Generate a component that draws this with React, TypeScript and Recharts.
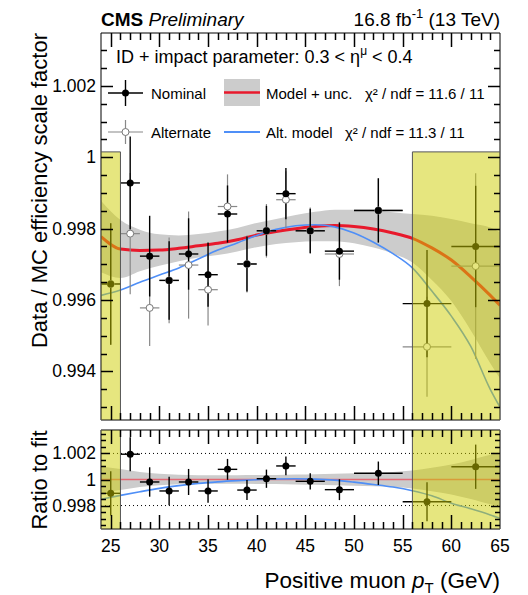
import React from "react";
import { ComposedChart, Scatter, Line, Area, XAxis, YAxis, ErrorBar, ReferenceArea, ReferenceLine } from "recharts";

const FONT = "'Liberation Sans', Arial, Helvetica, sans-serif";

// pT bins (GeV)
const binCenter = [25, 27, 29, 31, 33, 35, 37, 39, 41, 43, 45.5, 48.5, 52.5, 57.5, 62.5];
const binHalfWidth = [1, 1, 1, 1, 1, 1, 1, 1, 1, 1, 1.5, 1.5, 2.5, 2.5, 2.5];

const nominalSF = [0.99645, 0.99928, 0.99723, 0.99655, 0.99729, 0.99671, 0.99841, 0.99701, 0.99794, 0.99898, 0.99794, 0.99737, 0.99851, 0.9959, 0.9975];
const nominalErr = [0.0017, 0.0013, 0.00113, 0.0011, 0.001, 0.0009, 0.0008, 0.00077, 0.0007, 0.00072, 0.00062, 0.0008, 0.0009, 0.0015, 0.0017];
const alternateSF = [0.99645, 0.99786, 0.99578, 0.99655, 0.99698, 0.99629, 0.99862, 0.99701, 0.99794, 0.99881, 0.99794, 0.99729, 0.99851, 0.99469, 0.99695];
const alternateErr = [0.0017, 0.0017, 0.00107, 0.0012, 0.0015, 0.001, 0.0009, 0.0008, 0.00075, 0.0008, 0.00065, 0.0009, 0.0009, 0.0014, 0.0026];
const ratioToFit = [0.99894, 1.00194, 0.99981, 0.99912, 0.99981, 0.99912, 1.00078, 0.99919, 1.00006, 1.00104, 0.99986, 0.99922, 1.00048, 0.99829, 1.00098];

// fitted models sampled along pT
const curvePt = [24, 26, 28, 30, 32, 34, 36, 38, 40, 42, 44, 46, 48, 50, 52, 54, 56, 58, 60, 62, 64, 65];
const modelNominal = [0.99778, 0.99743, 0.99739, 0.9974, 0.99745, 0.99752, 0.99759, 0.99769, 0.99782, 0.99792, 0.998, 0.99806, 0.99809, 0.99806, 0.99799, 0.99788, 0.99773, 0.99746, 0.99712, 0.99665, 0.99613, 0.99585];
const modelUnc = [0.001, 0.00081, 0.00058, 0.00044, 0.00036, 0.00033, 0.00033, 0.00033, 0.00034, 0.00035, 0.00038, 0.00041, 0.00044, 0.00047, 0.00052, 0.00058, 0.00068, 0.0009, 0.00115, 0.0015, 0.0019, 0.00205];
const modelAlt = [0.99613, 0.99628, 0.9965, 0.9967, 0.9969, 0.99715, 0.9974, 0.9976, 0.99781, 0.99798, 0.99808, 0.99811, 0.99805, 0.99788, 0.99762, 0.9973, 0.9969, 0.99625, 0.99555, 0.9947, 0.9935, 0.993];
const altOverNominal = [0.99848, 0.99878, 0.99906, 0.99932, 0.99953, 0.9997, 0.99982, 0.99991, 0.99998, 1.00004, 1.00006, 1.00003, 0.99995, 0.9998, 0.99962, 0.99942, 0.99914, 0.99875, 0.99818, 0.99775, 0.99728, 0.99702];

const xMajor = [25, 30, 35, 40, 45, 50, 55, 60, 65];
const yMajorMain = [0.994, 0.996, 0.998, 1, 1.002];
const yLabelsMain = ["0.994", "0.996", "0.998", "1", "1.002"];
const yMajorRatio = [0.998, 1, 1.002];
const yLabelsRatio = ["0.998", "1", "1.002"];

const X_DOMAIN: [number, number] = [24, 65];
const Y_MAIN: [number, number] = [0.99264, 1.00348];
const Y_RATIO: [number, number] = [0.9962, 1.0038];
const vetoLow: [number, number] = [24, 26];
const vetoHigh: [number, number] = [56, 65];
const vetoTop = 1.00015;

const xTicks = Array.from({ length: 40 }, (_, i) => 25 + i);
const yTicksMain = Array.from({ length: 21 }, (_, i) => Math.round((0.993 + i * 0.0005) * 1e5) / 1e5);
const yTicksRatio = Array.from({ length: 15 }, (_, i) => Math.round((0.9965 + i * 0.0005) * 1e5) / 1e5);

// frame geometry (follows from the chart margins below)
const PLOT_L = 101;
const PLOT_R = 500;
const MAIN_T = 33;
const MAIN_B = 420;
const RATIO_TOP = 425;
const RATIO_T = 430;
const RATIO_B = 529;

const nominalPts = binCenter.map((x, i) => ({ x, y: nominalSF[i], ex: binHalfWidth[i], ey: nominalErr[i] }));
const alternatePts = binCenter.map((x, i) => ({ x, y: alternateSF[i], ex: binHalfWidth[i], ey: alternateErr[i] }));
const ratioPts = binCenter.map((x, i) => ({ x, y: ratioToFit[i], ex: binHalfWidth[i], ey: nominalErr[i] }));

const mainRows = curvePt.map((x, i) => ({
  x,
  nom: modelNominal[i],
  alt: modelAlt[i],
  band: [modelNominal[i] - modelUnc[i], modelNominal[i] + modelUnc[i]],
}));
const ratioRows = curvePt.map((x, i) => ({
  x,
  alt: altOverNominal[i],
  band: [1 - modelUnc[i] / modelNominal[i], 1 + modelUnc[i] / modelNominal[i]],
}));

const idx = (list: number[], v: number) => list.findIndex((m) => Math.abs(m - v) < 1e-7);

const bottomLabel = (p: any) => {
  const i = idx(xMajor, p.payload.value);
  if (i < 0) return <g />;
  return (
    <text x={p.x} y={p.y + 23} textAnchor="middle" fontSize={17.5} fontFamily={FONT} fill="#000">
      {xMajor[i]}
    </text>
  );
};

const leftLabel = (majors: number[], labels: string[]) => (p: any) => {
  const i = idx(majors, p.payload.value);
  if (i < 0) return <g />;
  return (
    <text x={p.x - 5} y={p.y + 6} textAnchor="end" fontSize={17.5} fontFamily={FONT} fill="#000">
      {labels[i]}
    </text>
  );
};

const dotFilled = (p: any) => <circle cx={p.cx} cy={p.cy} r={3.5} fill="#000" />;
const dotOpen = (p: any) => <circle cx={p.cx} cy={p.cy} r={3.5} fill="#fff" stroke="#777" strokeWidth={1} />;

const YELLOW = "rgb(205,205,0)";

function MainPanel() {
  return (
    <ComposedChart width={528} height={425} data={mainRows} margin={{ top: MAIN_T - 1, right: 528 - PLOT_R - 1, bottom: 425 - MAIN_B - 1, left: 0 }}>
      <XAxis dataKey="x" type="number" domain={X_DOMAIN} allowDataOverflow ticks={xMajor} interval={0} height={1}
        tickSize={0} tickMargin={0} tickLine={false} tick={false} axisLine={{ stroke: "#000" }} />
      <XAxis xAxisId="top" orientation="top" dataKey="x" type="number" domain={X_DOMAIN} allowDataOverflow ticks={xMajor}
        interval={0} height={1} tickSize={0} tickLine={false} tick={false} axisLine={{ stroke: "#000" }} />
      <YAxis type="number" domain={Y_MAIN} allowDataOverflow ticks={yMajorMain} interval={0} width={PLOT_L}
        tickSize={0} tickMargin={0} tickLine={false} axisLine={{ stroke: "#000" }} tick={leftLabel(yMajorMain, yLabelsMain)} />
      <YAxis yAxisId="right" orientation="right" type="number" domain={Y_MAIN} allowDataOverflow ticks={yMajorMain} interval={0}
        width={1} tickSize={0} tickLine={false} tick={false} axisLine={{ stroke: "#000" }} />
      <Area dataKey="band" type="monotone" stroke="none" fill="#cccccc" fillOpacity={1} isAnimationActive={false} />
      <Line dataKey="nom" type="monotone" stroke="#e8192c" strokeWidth={3} dot={false} isAnimationActive={false} />
      <Line dataKey="alt" type="monotone" stroke="#4f8ff7" strokeWidth={1.6} dot={false} isAnimationActive={false} />
      <Scatter data={alternatePts} dataKey="y" shape={dotOpen} isAnimationActive={false}>
        <ErrorBar dataKey="ex" direction="x" width={0} stroke="#888" strokeWidth={1.2} />
        <ErrorBar dataKey="ey" direction="y" width={0} stroke="#888" strokeWidth={1.2} />
      </Scatter>
      <Scatter data={nominalPts} dataKey="y" shape={dotFilled} isAnimationActive={false}>
        <ErrorBar dataKey="ex" direction="x" width={0} stroke="#000" strokeWidth={1.4} />
        <ErrorBar dataKey="ey" direction="y" width={0} stroke="#000" strokeWidth={1.4} />
      </Scatter>
      <ReferenceArea x1={vetoLow[0]} x2={vetoLow[1]} y1={Y_MAIN[0]} y2={vetoTop} fill={YELLOW} fillOpacity={0.5}
        stroke="#555" strokeWidth={1} ifOverflow="hidden" zIndex={1500} />
      <ReferenceArea x1={vetoHigh[0]} x2={vetoHigh[1]} y1={Y_MAIN[0]} y2={vetoTop} fill={YELLOW} fillOpacity={0.5}
        stroke="#555" strokeWidth={1} ifOverflow="hidden" zIndex={1500} />
    </ComposedChart>
  );
}

function RatioPanel() {
  return (
    <ComposedChart width={528} height={171} data={ratioRows}
      margin={{ top: RATIO_T - RATIO_TOP - 1, right: 528 - PLOT_R - 1, bottom: 0, left: 0 }}>
      <XAxis dataKey="x" type="number" domain={X_DOMAIN} allowDataOverflow ticks={xMajor} interval={0} height={RATIO_TOP + 171 - RATIO_B}
        tickSize={0} tickMargin={0} tickLine={false} axisLine={{ stroke: "#000" }} tick={bottomLabel} />
      <XAxis xAxisId="top" orientation="top" dataKey="x" type="number" domain={X_DOMAIN} allowDataOverflow ticks={xMajor}
        interval={0} height={1} tickSize={0} tickLine={false} tick={false} axisLine={{ stroke: "#000" }} />
      <YAxis type="number" domain={Y_RATIO} allowDataOverflow ticks={yMajorRatio} interval={0} width={PLOT_L}
        tickSize={0} tickMargin={0} tickLine={false} axisLine={{ stroke: "#000" }} tick={leftLabel(yMajorRatio, yLabelsRatio)} />
      <YAxis yAxisId="right" orientation="right" type="number" domain={Y_RATIO} allowDataOverflow ticks={yMajorRatio} interval={0}
        width={1} tickSize={0} tickLine={false} tick={false} axisLine={{ stroke: "#000" }} />
      <Area dataKey="band" type="monotone" stroke="none" fill="#cccccc" fillOpacity={1} isAnimationActive={false} />
      <ReferenceLine y={1.002} stroke="#000" strokeDasharray="1 3" />
      <ReferenceLine y={0.998} stroke="#000" strokeDasharray="1 3" />
      <ReferenceLine y={1} stroke="#e36a74" strokeWidth={1.5} />
      <Line dataKey="alt" type="monotone" stroke="#4f8ff7" strokeWidth={1.6} dot={false} isAnimationActive={false} />
      <Scatter data={ratioPts} dataKey="y" shape={dotFilled} isAnimationActive={false}>
        <ErrorBar dataKey="ex" direction="x" width={0} stroke="#000" strokeWidth={1.4} />
        <ErrorBar dataKey="ey" direction="y" width={0} stroke="#000" strokeWidth={1.4} />
      </Scatter>
      <ReferenceArea x1={vetoLow[0]} x2={vetoLow[1]} y1={Y_RATIO[0]} y2={Y_RATIO[1]} fill={YELLOW} fillOpacity={0.5}
        stroke="#555" strokeWidth={1} ifOverflow="hidden" zIndex={1500} />
      <ReferenceArea x1={vetoHigh[0]} x2={vetoHigh[1]} y1={Y_RATIO[0]} y2={Y_RATIO[1]} fill={YELLOW} fillOpacity={0.5}
        stroke="#555" strokeWidth={1} ifOverflow="hidden" zIndex={1500} />
    </ComposedChart>
  );
}

// inward ROOT-style tick marks on all four sides of a frame, snapped to whole pixels
function FrameTicks({ top, bottom, yDomain, yTicks, yMajors, xBig, yBig }: any) {
  const snap = (v: number) => Math.round(v) + 0.5;
  const px = (v: number) => snap(PLOT_L + ((v - X_DOMAIN[0]) / (X_DOMAIN[1] - X_DOMAIN[0])) * (PLOT_R - PLOT_L));
  const py = (v: number) => snap(top + ((yDomain[1] - v) / (yDomain[1] - yDomain[0])) * (bottom - top));
  const marks: React.ReactElement[] = [];
  xTicks.forEach((v) => {
    const l = idx(xMajor, v) >= 0 ? xBig : Math.round(xBig / 2);
    const x = px(v);
    marks.push(<line key={`b${v}`} x1={x} x2={x} y1={bottom} y2={bottom - l} />);
    marks.push(<line key={`t${v}`} x1={x} x2={x} y1={top} y2={top + l} />);
  });
  yTicks.forEach((v: number) => {
    const l = idx(yMajors, v) >= 0 ? yBig : Math.round(yBig / 2);
    const y = py(v);
    marks.push(<line key={`l${v}`} x1={PLOT_L} x2={PLOT_L + l} y1={y} y2={y} />);
    marks.push(<line key={`r${v}`} x1={PLOT_R} x2={PLOT_R - l} y1={y} y2={y} />);
  });
  return (
    <g stroke="#000" strokeWidth={1.5}>
      {marks}
    </g>
  );
}

function Overlay() {
  return (
    <svg width={528} height={595} style={{ position: "absolute", left: 0, top: 0, pointerEvents: "none" }} fontFamily={FONT}>
      <FrameTicks top={MAIN_T} bottom={MAIN_B} yDomain={Y_MAIN} yTicks={yTicksMain} yMajors={yMajorMain} xBig={14} yBig={12} />
      <FrameTicks top={RATIO_T} bottom={RATIO_B} yDomain={Y_RATIO} yTicks={yTicksRatio} yMajors={yMajorRatio} xBig={14} yBig={9} />

      <text x={101} y={26} fontSize={19}>
        <tspan fontWeight="bold">CMS</tspan>
        <tspan fontStyle="italic"> Preliminary</tspan>
      </text>
      <text x={500} y={26} fontSize={19} textAnchor="end">
        16.8 fb<tspan fontSize={13} dy={-8}>-1</tspan>
        <tspan dy={8}> (13 TeV)</tspan>
      </text>
      <text x={116} y={63} fontSize={18}>
        ID + impact parameter: 0.3 &lt; η<tspan fontSize={12} dy={-8}>μ</tspan>
        <tspan dy={8}> &lt; 0.4</tspan>
      </text>

      <line x1={108} x2={143} y1={93} y2={93} stroke="#000" strokeWidth={1.4} />
      <line x1={125.5} x2={125.5} y1={80} y2={106} stroke="#000" strokeWidth={1.4} />
      <circle cx={125.5} cy={93} r={3.5} fill="#000" />
      <text x={151} y={98.5} fontSize={15}>Nominal</text>
      <rect x={224} y={79} width={36} height={27} fill="#cccccc" />
      <line x1={224} x2={260} y1={92.5} y2={92.5} stroke="#e8192c" strokeWidth={2.5} />
      <text x={266} y={98.5} fontSize={15}>Model + unc.</text>
      <text x={365} y={98.5} fontSize={15}>χ² / ndf = 11.6 / 11</text>

      <line x1={108} x2={143} y1={132} y2={132} stroke="#888" strokeWidth={1.2} />
      <line x1={125.5} x2={125.5} y1={120} y2={144} stroke="#888" strokeWidth={1.2} />
      <circle cx={125.5} cy={132} r={3.5} fill="#fff" stroke="#777" />
      <text x={151} y={137.5} fontSize={15}>Alternate</text>
      <line x1={224} x2={260} y1={132} y2={132} stroke="#4f8ff7" strokeWidth={1.8} />
      <text x={266} y={137.5} fontSize={15}>Alt. model</text>
      <text x={345} y={137.5} fontSize={15}>χ² / ndf = 11.3 / 11</text>

      <text transform="translate(47,33) rotate(-90)" textAnchor="end" fontSize={22}>
        Data / MC efficiency scale factor
      </text>
      <text transform="translate(47,480) rotate(-90)" textAnchor="middle" fontSize={22}>
        Ratio to fit
      </text>
      <text x={500} y={588} textAnchor="end" fontSize={22.5}>
        Positive muon <tspan fontStyle="italic">p</tspan>
        <tspan fontSize={15} dy={5}>T</tspan>
        <tspan dy={-5}> (GeV)</tspan>
      </text>
    </svg>
  );
}

export default function App() {
  return (
    <div style={{ position: "absolute", left: 0, top: 0, width: 528, height: 595, background: "#fff" }}>
      <div style={{ position: "absolute", left: 0, top: 0 }}>
        <MainPanel />
      </div>
      <div style={{ position: "absolute", left: 0, top: RATIO_TOP }}>
        <RatioPanel />
      </div>
      <Overlay />
    </div>
  );
}
